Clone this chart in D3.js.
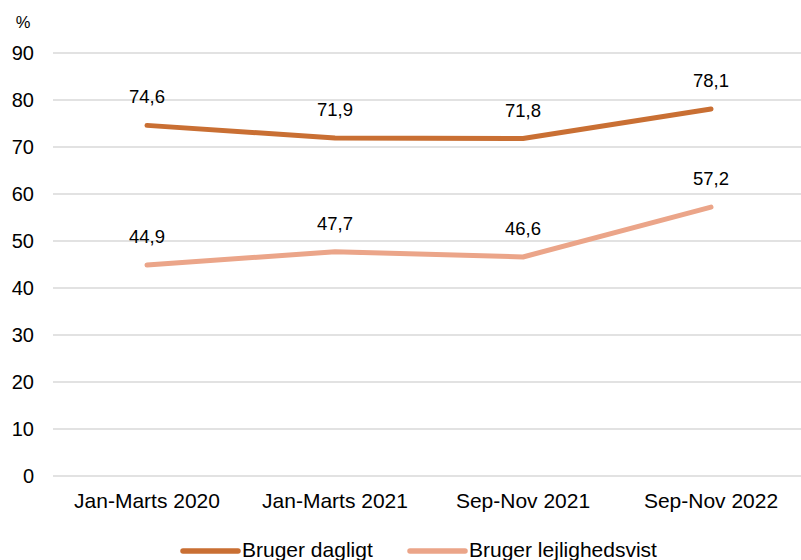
<!DOCTYPE html>
<html><head><meta charset="utf-8">
<script src="https://cdn.jsdelivr.net/npm/d3@7"></script>
<style>body{margin:0;background:#fff;} svg{display:block;font-family:"Liberation Sans",Arial,sans-serif;}</style>
</head><body>
<svg id="c" width="801" height="560"></svg>
<script>
const categories = ["Jan-Marts 2020","Jan-Marts 2021","Sep-Nov 2021","Sep-Nov 2022"];
const dagligt = [74.6, 71.9, 71.8, 78.1];
const lejlighedsvist = [44.9, 47.7, 46.6, 57.2];
const seriesNames = ["Bruger dagligt","Bruger lejlighedsvist"];
const yTicks = [0,10,20,30,40,50,60,70,80,90];

const colors = ["#C96F33","#EBA589"];
const svg = d3.select("#c");
const x = d3.scaleBand().domain(categories).range([53,805]);
const y = d3.scaleLinear().domain([0,90]).range([476,53]);
const cx = d => x(d) + x.bandwidth()/2;

// grid
svg.append("g").selectAll("line").data(yTicks).join("line")
  .attr("x1",53).attr("x2",801).attr("y1",d=>y(d)).attr("y2",d=>y(d))
  .attr("stroke","#D9D9D9").attr("stroke-width",1.5);

// y axis labels
const yAxis = d3.axisLeft(y).tickValues(yTicks).tickSize(0).tickPadding(0);
const ya = svg.append("g").attr("transform","translate(34,0)").call(yAxis);
ya.select(".domain").remove();
ya.selectAll("text").attr("font-size",20).attr("fill","#000").attr("font-family","Liberation Sans, Arial, sans-serif");

svg.append("text").attr("x",23).attr("y",28).attr("text-anchor","middle").attr("font-size",16.5).text("%");

// x axis labels
const xAxis = d3.axisBottom(x).tickSize(0).tickPadding(0);
const xa = svg.append("g").attr("transform","translate(0,493)").call(xAxis);
xa.select(".domain").remove();
xa.selectAll("text").attr("font-size",21).attr("fill","#000").attr("dy","0.71em").attr("font-family","Liberation Sans, Arial, sans-serif");

const series = [dagligt, lejlighedsvist];
const line = d3.line().x((d,i)=>cx(categories[i])).y(d=>y(d));
series.forEach((s,k)=>{
  svg.append("path").datum(s).attr("d",line).attr("fill","none")
    .attr("stroke",colors[k]).attr("stroke-width",5).attr("stroke-linecap","round").attr("stroke-linejoin","round");
  svg.append("g").selectAll("text").data(s).join("text")
    .attr("x",(d,i)=>cx(categories[i])).attr("y",d=>y(d)-22)
    .attr("text-anchor","middle").attr("font-size",18.5).attr("fill","#000")
    .text(d=>d.toFixed(1).replace(".",","));
});

// legend
const legX = [183,410];
seriesNames.forEach((n,k)=>{
  svg.append("line").attr("x1",legX[k]).attr("x2",legX[k]+55).attr("y1",551).attr("y2",551)
    .attr("stroke",colors[k]).attr("stroke-width",5.5).attr("stroke-linecap","round");
  svg.append("text").attr("x",legX[k]+59).attr("y",557).attr("font-size",21).attr("fill","#000").text(n);
});
</script>
</body></html>
